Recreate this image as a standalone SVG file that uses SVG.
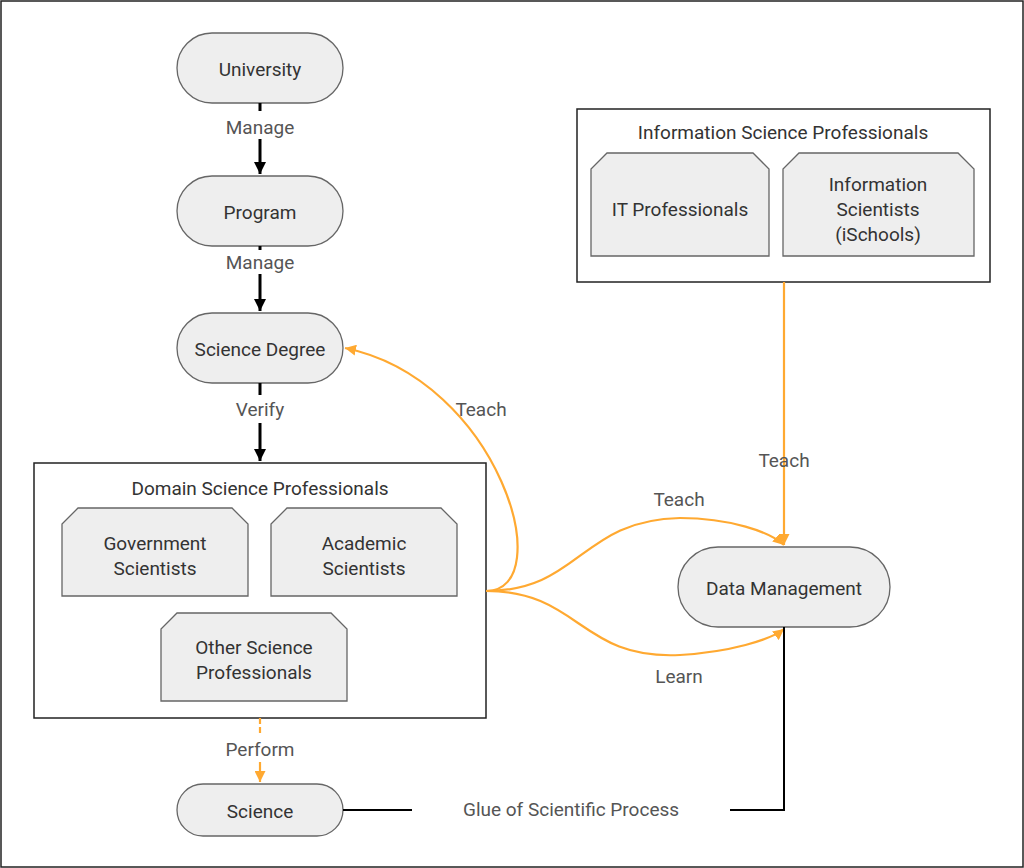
<svg xmlns="http://www.w3.org/2000/svg" width="1024" height="868" viewBox="0 0 1024 868">
<style>
text{font-family:Roboto,"Liberation Sans",sans-serif;font-size:19px;text-anchor:middle;dominant-baseline:central;fill:#333}
.lbl{fill:#555}
.node{fill:#eeeeee;stroke:#666;stroke-width:1.3}
.box{fill:#fff;stroke:#222;stroke-width:1.5}
.blk{stroke:#000;stroke-width:3;fill:none}
.org{stroke:#ffa931;stroke-width:2.2;fill:none}
</style>
<defs>
<marker id="ab" viewBox="0 0 10 10" refX="10" refY="5" markerWidth="4" markerHeight="4" orient="auto"><path d="M0,0L10,5L0,10z" fill="#000"/></marker>
<marker id="ao" viewBox="0 0 10 10" refX="10" refY="5" markerWidth="5" markerHeight="5" orient="auto"><path d="M0,0L10,5L0,10z" fill="#ffa931"/></marker>
</defs>
<rect x="1" y="1" width="1022" height="866" fill="#fff" stroke="#222" stroke-width="1.5"/>
<g id="domain"><rect class="box" x="34" y="463" width="452" height="255"/><text x="260" y="488">Domain Science Professionals</text></g>
<g id="gov"><path class="node" d="M78,508H232L248,524V596H62V524Z"/><text x="155" y="543">Government</text><text x="155" y="568">Scientists</text></g>
<g id="acad"><path class="node" d="M287,508H441L457,524V596H271V524Z"/><text x="364" y="543">Academic</text><text x="364" y="568">Scientists</text></g>
<g id="other"><path class="node" d="M177,613H331L347,629V701H161V629Z"/><text x="254" y="647">Other Science</text><text x="254" y="672">Professionals</text></g>
<g id="info"><rect class="box" x="577" y="109" width="413" height="173"/><text x="783" y="132">Information Science Professionals</text></g>
<g id="it"><path class="node" d="M607,153H753L769,169V256H591V169Z"/><text x="680" y="209">IT Professionals</text></g>
<g id="isci"><path class="node" d="M799,153H958L974,169V256H783V169Z"/><text x="878" y="184">Information</text><text x="878" y="209">Scientists</text><text x="878" y="234">(iSchools)</text></g>
<g id="university"><rect class="node" x="177" y="33" width="166" height="70" rx="35"/><text x="260" y="69">University</text></g>
<g id="program"><rect class="node" x="177" y="176" width="166" height="70" rx="35"/><text x="260" y="212">Program</text></g>
<g id="degree"><rect class="node" x="177" y="313" width="166" height="70" rx="35"/><text x="260" y="349">Science Degree</text></g>
<g id="science"><rect class="node" x="177" y="784" width="166" height="52" rx="26"/><text x="260" y="811">Science</text></g>
<g id="dm"><rect class="node" x="678" y="547" width="212" height="80" rx="40"/><text x="784" y="588">Data Management</text></g>
<g id="connectors">
<path class="blk" d="M260,103V111M260,139V174" marker-end="url(#ab)"/>
<path class="blk" d="M260,246V250M260,274V311" marker-end="url(#ab)"/>
<path class="blk" d="M260,383V395M260,423V461" marker-end="url(#ab)"/>
<path class="org" stroke-dasharray="6,3" d="M260,718V736"/>
<path class="org" d="M260,762V782" marker-end="url(#ao)"/>
<path class="org" d="M486,591C560,591 500,380 345,348" marker-end="url(#ao)"/>
<path class="org" d="M486,591C580,591 580,520 680,518C730,518 770,532 784,545" marker-end="url(#ao)"/>
<path class="org" d="M486,591C580,591 580,660 680,655C730,652 770,640 784,629" marker-end="url(#ao)"/>
<path class="org" d="M784,282V545" marker-end="url(#ao)"/>
<path stroke="#000" stroke-width="2" fill="none" d="M343,810H412M730,810H784V627"/>
<text class="lbl" x="260" y="127">Manage</text>
<text class="lbl" x="260" y="262">Manage</text>
<text class="lbl" x="260" y="409">Verify</text>
<text class="lbl" x="260" y="749">Perform</text>
<text class="lbl" x="481" y="409">Teach</text>
<text class="lbl" x="679" y="499">Teach</text>
<text class="lbl" x="679" y="676">Learn</text>
<text class="lbl" x="784" y="460">Teach</text>
<text class="lbl" x="571" y="809">Glue of Scientific Process</text>
</g>
</svg>
